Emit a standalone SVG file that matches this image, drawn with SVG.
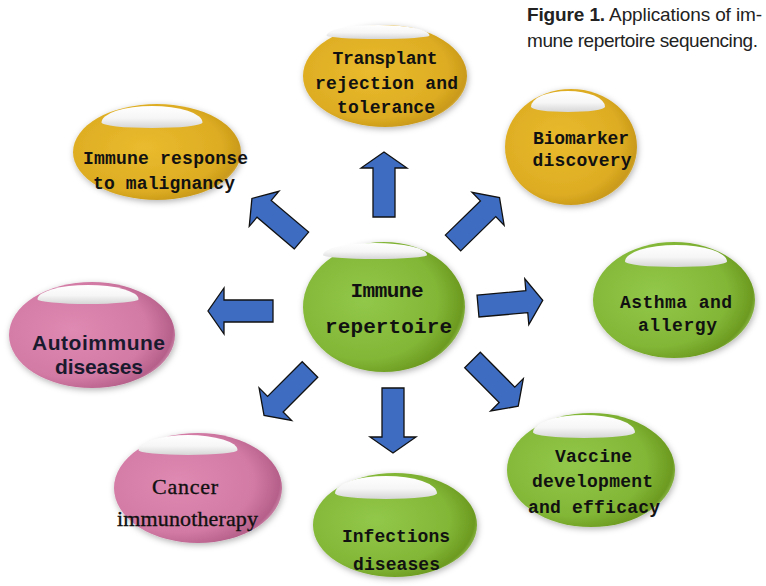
<svg xmlns="http://www.w3.org/2000/svg" width="766" height="586" viewBox="0 0 766 586">
<style>
.m{font-family:"Liberation Mono","DejaVu Sans Mono",monospace;font-weight:bold;font-size:18px;fill:#111;text-anchor:middle}
.big{font-size:21px}
.sans{font-family:"Liberation Sans",Arial,sans-serif;font-weight:bold;font-size:21px;fill:#1a1a2e;text-anchor:middle}
.serif{font-family:"Liberation Serif","Times New Roman",serif;font-size:22px;fill:#111;stroke:#111;stroke-width:0.35;text-anchor:middle}
.cap{font-family:"Liberation Sans",Arial,sans-serif;font-size:19px;fill:#222}
.arrow{fill:#3d6cc0;stroke:#111;stroke-width:1.3;stroke-linejoin:miter}
.hl{fill:url(#hlg)}
</style>
<defs>
<radialGradient id="gold" cx="0.42" cy="0.45" r="0.62">
<stop offset="0" stop-color="#EABB2E"/><stop offset="0.75" stop-color="#DDAC22"/><stop offset="0.93" stop-color="#C99A1A"/><stop offset="1" stop-color="#E2C060"/>
</radialGradient>
<radialGradient id="green" cx="0.38" cy="0.45" r="0.65">
<stop offset="0" stop-color="#92C84A"/><stop offset="0.7" stop-color="#82B636"/><stop offset="0.93" stop-color="#6C9A20"/><stop offset="1" stop-color="#9CC860"/>
</radialGradient>
<radialGradient id="pink" cx="0.38" cy="0.45" r="0.65">
<stop offset="0" stop-color="#DF8AB2"/><stop offset="0.7" stop-color="#D27AA4"/><stop offset="0.93" stop-color="#B5608A"/><stop offset="1" stop-color="#D898B8"/>
</radialGradient>
<linearGradient id="hlg" x1="0" y1="0" x2="0" y2="1">
<stop offset="0" stop-color="#ffffff"/><stop offset="0.55" stop-color="#f6f6f6"/><stop offset="1" stop-color="#d6d6d6"/>
</linearGradient>
<filter id="sh" x="-20%" y="-20%" width="140%" height="140%">
<feGaussianBlur in="SourceAlpha" stdDeviation="3"/>
<feOffset dx="1" dy="2" result="b"/>
<feFlood flood-color="#000" flood-opacity="0.3"/>
<feComposite in2="b" operator="in"/>
<feMerge><feMergeNode/><feMergeNode in="SourceGraphic"/></feMerge>
</filter>
<path id="cap" d="M-50,15 A50,15 0 0 1 50,15 A50,5 0 0 1 -50,15 Z"/>
<polygon id="arr" points="0,-11 49,-11 49,-23 65,0 49,23 49,11 0,11"/>
</defs>
<rect width="766" height="586" fill="#ffffff"/>

<g id="caption">
<text class="cap" x="527" y="21" textLength="235" lengthAdjust="spacing"><tspan font-weight="bold">Figure 1.</tspan> Applications of im-</text>
<text class="cap" x="527" y="47" textLength="231" lengthAdjust="spacing">mune repertoire sequencing.</text>
</g>

<g id="connectors">
<use href="#arr" class="arrow" transform="translate(384,217) rotate(-90)"/>
<use href="#arr" class="arrow" transform="translate(301.5,240.5) rotate(-139.7)"/>
<use href="#arr" class="arrow" transform="translate(453,243) rotate(-44.3)"/>
<use href="#arr" class="arrow" transform="translate(273,311) rotate(180)"/>
<use href="#arr" class="arrow" transform="translate(478,306) rotate(-5)"/>
<use href="#arr" class="arrow" transform="translate(310,369.5) rotate(135)"/>
<use href="#arr" class="arrow" transform="translate(393,388) rotate(90)"/>
<use href="#arr" class="arrow" transform="translate(472.5,360) rotate(45.3)"/>
</g>

<g id="transplant">
<ellipse cx="385" cy="76" rx="82" ry="51" fill="url(#gold)" filter="url(#sh)"/>
<use href="#cap" class="hl" transform="translate(378,25) scale(1.03,0.7)"/>
<text class="m" x="385" y="64" textLength="105">Transplant</text>
<text class="m" x="386.5" y="89" textLength="143">rejection and</text>
<text class="m" x="386" y="113" textLength="98">tolerance</text>
</g>

<g id="biomarker">
<ellipse cx="571" cy="147" rx="66" ry="58" fill="url(#gold)" filter="url(#sh)"/>
<use href="#cap" class="hl" transform="translate(568,91) scale(0.74,1.05)"/>
<text class="m" x="581" y="144" textLength="96">Biomarker</text>
<text class="m" x="582" y="166" textLength="99">discovery</text>
</g>

<g id="malignancy">
<ellipse cx="157" cy="152" rx="84" ry="48" fill="url(#gold)" filter="url(#sh)"/>
<use href="#cap" class="hl" transform="translate(152,106) scale(1.01,1.1)"/>
<text class="m" x="165.5" y="164" textLength="165">Immune response</text>
<text class="m" x="164" y="189" textLength="142">to malignancy</text>
</g>

<g id="repertoire">
<ellipse cx="384" cy="307" rx="81" ry="65" fill="url(#green)" filter="url(#sh)"/>
<use href="#cap" class="hl" transform="translate(375,243) scale(1.04,0.8)"/>
<text class="m big" x="387" y="297" textLength="73">Immune</text>
<text class="m big" x="388.5" y="333" textLength="127">repertoire</text>
</g>

<g id="asthma">
<ellipse cx="674" cy="300" rx="81" ry="58" fill="url(#green)" filter="url(#sh)"/>
<use href="#cap" class="hl" transform="translate(676,245) scale(1.02,1.1)"/>
<text class="m" x="676" y="308" textLength="112">Asthma and</text>
<text class="m" x="677.5" y="331" textLength="79">allergy</text>
</g>

<g id="autoimmune">
<ellipse cx="92" cy="335" rx="83" ry="53" fill="url(#pink)" filter="url(#sh)"/>
<use href="#cap" class="hl" transform="translate(88,285) scale(1.01,0.95)"/>
<text class="sans" x="98.5" y="350" textLength="133">Autoimmune</text>
<text class="sans" x="99" y="374" textLength="88">diseases</text>
</g>

<g id="vaccine">
<ellipse cx="591" cy="470" rx="84" ry="57" fill="url(#green)" filter="url(#sh)"/>
<use href="#cap" class="hl" transform="translate(584,415) scale(1.02,1.15)"/>
<text class="m" x="593.5" y="462" textLength="77">Vaccine</text>
<text class="m" x="592.5" y="487" textLength="121">development</text>
<text class="m" x="594" y="513" textLength="132">and efficacy</text>
</g>

<g id="cancer">
<ellipse cx="198" cy="488" rx="84" ry="55" fill="url(#pink)" filter="url(#sh)"/>
<use href="#cap" class="hl" transform="translate(188,435) scale(0.99,1.0)"/>
<text class="serif" x="185" y="494" textLength="66">Cancer</text>
<text class="serif" x="187.5" y="526" textLength="141">immunotherapy</text>
</g>

<g id="infections">
<ellipse cx="395" cy="525" rx="82" ry="52" fill="url(#green)" filter="url(#sh)"/>
<use href="#cap" class="hl" transform="translate(386,476) scale(1.02,1.15)"/>
<text class="m" x="396" y="542" textLength="108">Infections</text>
<text class="m" x="396.5" y="570" textLength="87">diseases</text>
</g>
</svg>
